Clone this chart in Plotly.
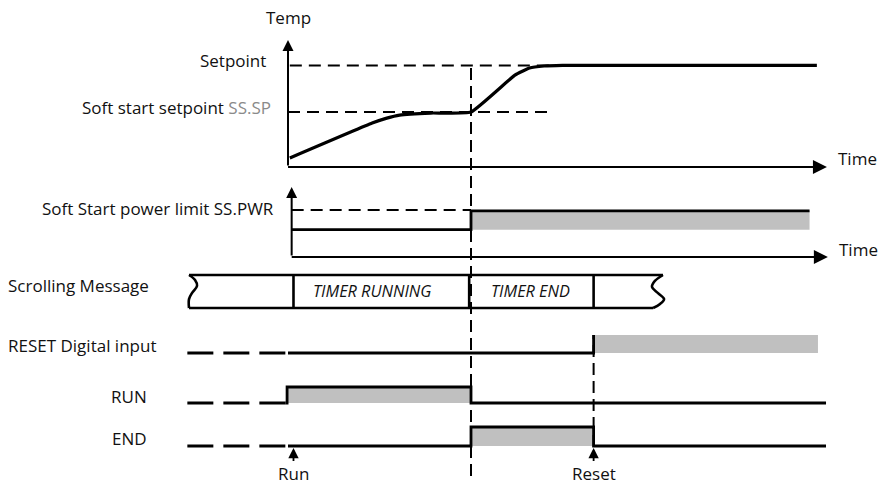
import plotly.graph_objects as go

# ---------------- data (time in arbitrary units: Run at t=0, timer end at t=10) ----------------
temp_t = [0.1, 4.6, 5.4, 6.1, 7.8, 10.0, 12.4, 13.2, 14.0, 15.0, 28.9]
temp_v = [7.1, 34.6, 38.5, 40.9, 42.5, 43.3, 72.4, 78.0, 79.5, 80.0, 80.0]
setpoint = 80.0
ss_sp = 43.3
setpoint_dash_end = 15.0
ss_sp_dash_end = 14.5
temp_axis_end = 29.45

ss_pwr = 67.0
power_t = [0.2, 10.0, 28.5]
power_v = [39.0, 66.0]
power_axis_start = 0.2
power_axis_end = 29.5

t_run = 0.0
t_end = 10.0
t_reset = 16.7
t_lead = -5.5

scroll_bounds = [-5.41, 0.3, 9.9, 16.7, 20.49]
scroll_msgs = ["", "TIMER RUNNING", "TIMER END", ""]

reset_times = [0.0, t_reset, 28.96]
reset_levels = [0, 1]
run_times = [-0.05, t_end, 29.4]
run_levels = [1, 0]
end_times = [0.0, t_end, t_reset, 29.4]
end_levels = [0, 1, 0]

# ---------------- layout helpers ----------------
W, H = 879, 484
PX = 18.3      # pixels per time unit
X0 = 288       # pixel of t = 0
xrange_ = [-X0 / PX, (W - X0) / PX]


def py(p):
    return 1 - p / H


def domain_for(v0, p0, v1, p1, lo, hi):
    k = (p1 - p0) / (v1 - v0)
    return [py(p0 + (lo - v0) * k), py(p0 + (hi - v0) * k)]


BLACK = "#000000"
GRAY = "#c0c0c0"
FONT = "Open Sans"
FS = 17

fig = go.Figure()

# ---------------- temperature panel (y) ----------------
fig.add_trace(go.Scatter(x=[temp_t[0], setpoint_dash_end], y=[setpoint, setpoint], mode="lines",
                         line=dict(color=BLACK, width=2, dash="12px,7px"), xaxis="x", yaxis="y"))
fig.add_trace(go.Scatter(x=[0, ss_sp_dash_end], y=[ss_sp, ss_sp], mode="lines",
                         line=dict(color=BLACK, width=2, dash="12px,7px"), xaxis="x", yaxis="y"))
fig.add_trace(go.Scatter(x=temp_t, y=temp_v, mode="lines",
                         line=dict(color=BLACK, width=3.2, shape="spline", smoothing=0.35),
                         xaxis="x", yaxis="y"))

# ---------------- power panel (y2) ----------------
fig.add_trace(go.Scatter(x=[power_t[1], power_t[2], power_t[2], power_t[1]],
                         y=[power_v[0], power_v[0], power_v[1], power_v[1]],
                         fill="toself", fillcolor=GRAY, mode="none", xaxis="x", yaxis="y2"))
fig.add_trace(go.Scatter(x=[power_t[0], power_t[1]], y=[ss_pwr, ss_pwr], mode="lines",
                         line=dict(color=BLACK, width=2, dash="12px,7px"), xaxis="x", yaxis="y2"))
fig.add_trace(go.Scatter(x=power_t, y=power_v + [power_v[-1]], mode="lines",
                         line=dict(color=BLACK, width=2.8, shape="hv"), xaxis="x", yaxis="y2"))

# ---------------- scrolling message (y3) ----------------
sb = scroll_bounds
fig.add_trace(go.Scatter(x=[sb[0], sb[-1]], y=[1, 1], mode="lines",
                         line=dict(color=BLACK, width=2.6), xaxis="x", yaxis="y3"))
fig.add_trace(go.Scatter(x=[sb[0], sb[-1] - 0.54], y=[0, 0], mode="lines",
                         line=dict(color=BLACK, width=2.6), xaxis="x", yaxis="y3"))
for b in sb[1:-1]:
    fig.add_trace(go.Scatter(x=[b, b], y=[0, 1], mode="lines",
                             line=dict(color=BLACK, width=2.6), xaxis="x", yaxis="y3"))
# torn (wavy) edges
lw = sb[0]
fig.add_trace(go.Scatter(x=[lw, lw + 0.33, lw + 0.44, lw + 0.16, lw, lw],
                         y=[1, 0.85, 0.67, 0.45, 0.27, 0],
                         mode="lines", line=dict(color=BLACK, width=2.6, shape="spline"),
                         xaxis="x", yaxis="y3"))
rw = sb[-1]
fig.add_trace(go.Scatter(x=[rw, rw - 0.44, rw - 0.6, rw - 0.27, rw + 0.06, rw - 0.16, rw - 0.54],
                         y=[1, 0.82, 0.64, 0.45, 0.27, 0.12, 0],
                         mode="lines", line=dict(color=BLACK, width=2.6, shape="spline"),
                         xaxis="x", yaxis="y3"))


# ---------------- digital rows ----------------
def digital_row(times, levels, yaxis, lead_end, outline_last_high=True):
    for i, lv in enumerate(levels):
        if lv == 1:
            a, b = times[i], times[i + 1]
            fig.add_trace(go.Scatter(x=[a, b, b, a], y=[0, 0, 1, 1], fill="toself",
                                     fillcolor=GRAY, mode="none", xaxis="x", yaxis=yaxis))
    fig.add_trace(go.Scatter(x=[t_lead, lead_end], y=[0, 0], mode="lines",
                             line=dict(color=BLACK, width=2.8, dash="26px,10px"),
                             xaxis="x", yaxis=yaxis))
    xs, ys = [lead_end], [0]
    n = len(levels)
    for i, lv in enumerate(levels):
        if i == n - 1 and lv == 1 and not outline_last_high:
            xs += [times[i], times[i]]
            ys += [ys[-1], 1]
            break
        xs += [times[i], times[i], times[i + 1]]
        ys += [ys[-1], lv, lv]
    fig.add_trace(go.Scatter(x=xs, y=ys, mode="lines",
                             line=dict(color=BLACK, width=2.8), xaxis="x", yaxis=yaxis))


digital_row(reset_times, reset_levels, "y4", 0.0, outline_last_high=False)
digital_row(run_times, run_levels, "y5", -0.15)
digital_row(end_times, end_levels, "y6", 0.0)

# ---------------- axes arrows, event markers ----------------
annotations = []


def arrow(x, y, ax, ay, yref, width=2, size=1.1, head=2):
    annotations.append(dict(x=x, y=y, ax=ax, ay=ay, xref="x", yref=yref, axref="x", ayref=yref,
                            text="", showarrow=True, arrowhead=head, arrowwidth=width,
                            arrowsize=size, arrowcolor=BLACK, standoff=0, startstandoff=0))


arrow(0, 100, 0, 0, "y", width=2, size=1.1)
arrow(temp_axis_end, 0, -0.08, 0, "y", width=2, size=1.4)
arrow(power_axis_start, 100, power_axis_start, 0, "y2", width=2, size=1.1)
arrow(power_axis_end, 0, power_axis_start - 0.08, 0, "y2", width=2, size=1.4)

for t_ev, lab in [(sb[1], "Run"), (t_reset, "Reset")]:
    annotations.append(dict(x=t_ev, y=-0.1, xref="x", yref="y6", ax=0, ay=26, text=lab,
                            showarrow=True, arrowhead=2, arrowwidth=1.8, arrowsize=1.15,
                            arrowcolor=BLACK, standoff=0,
                            font=dict(family=FONT, size=FS, color="#111111")))


def label(text, xpx, ypx, anchor="right", size=FS, italic=False):
    annotations.append(dict(x=xpx / W, y=py(ypx), xref="paper", yref="paper", text=text,
                            showarrow=False, xanchor=anchor, yanchor="middle",
                            font=dict(family=FONT, size=size, color="#111111",
                                      style="italic" if italic else "normal")))


label("Temp", 288, 17, "center")
label("Setpoint", 268, 61)
label('Soft start setpoint <span style="color:#8a8a8a">SS.SP</span>', 273, 107)
label("Time", 836, 158, "left")
label("Soft Start power limit SS.PWR", 276, 208)
label("Time", 837, 250, "left")
label("Scrolling Message", 6, 285, "left")
label("RESET Digital input", 6, 345, "left")
label("RUN", 109, 396, "left")
label("END", 110, 438, "left")
label(scroll_msgs[1], 372, 291, "center", size=16.3, italic=True)
label(scroll_msgs[2], 530, 291, "center", size=16.3, italic=True)

shapes = [
    dict(type="line", xref="x", yref="paper", x0=t_end, x1=t_end, y0=py(476), y1=py(68),
         line=dict(color=BLACK, width=2, dash="12px,6px")),
    dict(type="line", xref="x", yref="paper", x0=t_reset, x1=t_reset, y0=py(447), y1=py(335),
         line=dict(color=BLACK, width=2, dash="12px,6px")),
]

hidden = dict(showgrid=False, zeroline=False, showticklabels=False, showline=False, ticks="",
              fixedrange=True)

fig.update_layout(
    width=W, height=H, autosize=False,
    margin=dict(l=0, r=0, t=0, b=0),
    paper_bgcolor="white", plot_bgcolor="white",
    showlegend=False,
    xaxis=dict(domain=[0, 1], range=xrange_, anchor="y", **hidden),
    yaxis=dict(domain=domain_for(0, 167, 100, 40, -8, 108), range=[-8, 108], anchor="x", **hidden),
    yaxis2=dict(domain=domain_for(0, 257, 100, 187, -10, 110), range=[-10, 110], anchor="x", **hidden),
    yaxis3=dict(domain=domain_for(0, 308, 1, 275, -0.3, 1.3), range=[-0.3, 1.3], anchor="x", **hidden),
    yaxis4=dict(domain=domain_for(0, 353, 1, 335, -0.5, 1.5), range=[-0.5, 1.5], anchor="x", **hidden),
    yaxis5=dict(domain=domain_for(0, 403, 1, 387, -0.5, 1.5), range=[-0.5, 1.5], anchor="x", **hidden),
    yaxis6=dict(domain=domain_for(0, 446, 1, 427, -0.5, 1.5), range=[-0.5, 1.5], anchor="x", **hidden),
    annotations=annotations,
    shapes=shapes,
)

fig.write_html("out.html", config={"displayModeBar": False},
               post_script="document.body.style.margin='0px';")
